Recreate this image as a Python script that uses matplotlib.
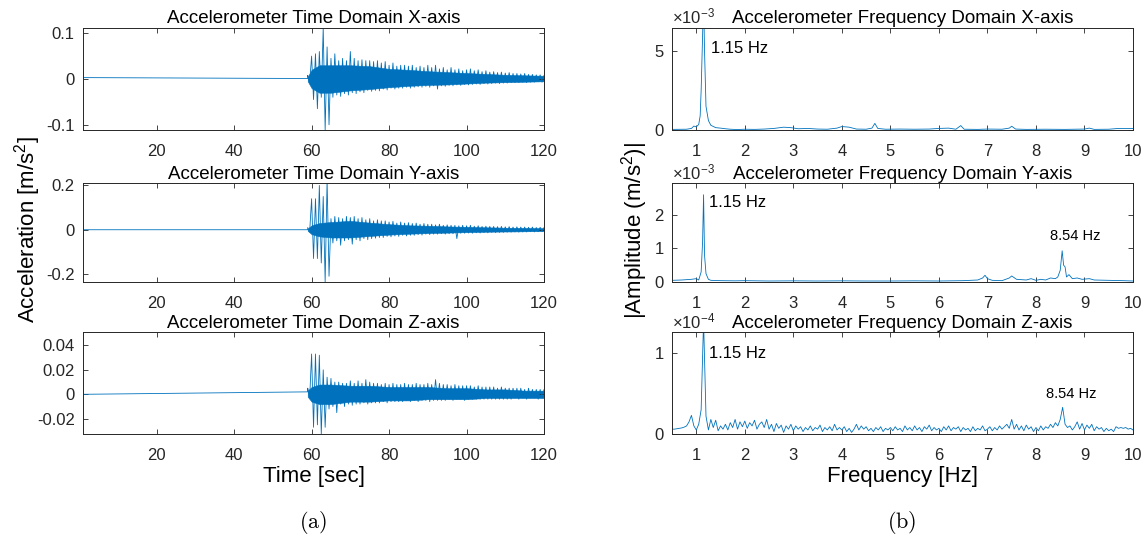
import matplotlib
matplotlib.use("Agg")
import matplotlib.pyplot as plt
import numpy as np

plt.rcParams["font.family"] = ["Liberation Sans", "DejaVu Sans"]
plt.rcParams["mathtext.fontset"] = "custom"
plt.rcParams["mathtext.rm"] = "Liberation Sans"
plt.rcParams["mathtext.it"] = "Liberation Sans:italic"
plt.rcParams["axes.unicode_minus"] = False

LINE = "#0072BD"
DARK = "#262626"

# ---- time domain: quiet stretch, then per-second envelope of the burst ----
t_quiet = [1, 59]
x_quiet = [0.003, 0.001]
y_quiet = [0.0, 0.0]
z_quiet = [0.0, 0.002]

burst_t = list(range(59, 121))

# peak values (max / min) read per second, 59 s .. 120 s
x_hi = [0.008, 0.05, 0.055, 0.06, 0.112, 0.07, 0.045, 0.055, 0.04, 0.045,
        0.04, 0.06, 0.045, 0.04, 0.042, 0.04, 0.04, 0.038, 0.04, 0.035,
        0.038, 0.03, 0.035, 0.028, 0.03, 0.03, 0.028, 0.03, 0.025, 0.028,
        0.025, 0.03, 0.025, 0.03, 0.022, 0.025, 0.02, 0.025, 0.02, 0.022,
        0.018, 0.02, 0.022, 0.018, 0.02, 0.016, 0.018, 0.015, 0.016, 0.014,
        0.015, 0.013, 0.014, 0.012, 0.012, 0.011, 0.012, 0.01, 0.01, 0.009,
        0.009, 0.008]
x_lo = [-0.008, -0.045, -0.065, -0.04, -0.112, -0.1, -0.04, -0.035, -0.038, -0.032,
        -0.035, -0.03, -0.032, -0.028, -0.03, -0.025, -0.027, -0.025, -0.026, -0.022,
        -0.024, -0.02, -0.022, -0.02, -0.02, -0.018, -0.02, -0.018, -0.017, -0.018,
        -0.016, -0.018, -0.015, -0.022, -0.015, -0.016, -0.014, -0.015, -0.013, -0.014,
        -0.012, -0.013, -0.012, -0.011, -0.012, -0.01, -0.011, -0.01, -0.009, -0.01,
        -0.009, -0.009, -0.008, -0.008, -0.008, -0.007, -0.008, -0.007, -0.007, -0.006,
        -0.007, -0.006]

y_hi = [0.01, 0.14, 0.14, 0.2, 0.15, 0.225, 0.05, 0.06, 0.055, 0.05,
        0.06, 0.055, 0.06, 0.05, 0.055, 0.045, 0.05, 0.04, 0.045, 0.04,
        0.04, 0.035, 0.038, 0.03, 0.035, 0.03, 0.032, 0.028, 0.03, 0.025,
        0.028, 0.025, 0.025, 0.022, 0.025, 0.02, 0.022, 0.02, 0.02, 0.018,
        0.02, 0.018, 0.02, 0.016, 0.018, 0.015, 0.016, 0.015, 0.015, 0.014,
        0.015, 0.013, 0.014, 0.012, 0.013, 0.012, 0.012, 0.011, 0.012, 0.01,
        0.011, 0.01]
y_lo = [-0.01, -0.13, -0.13, -0.15, -0.235, -0.21, -0.06, -0.05, -0.07, -0.05,
        -0.045, -0.065, -0.045, -0.05, -0.04, -0.045, -0.04, -0.038, -0.035, -0.035,
        -0.03, -0.032, -0.028, -0.03, -0.025, -0.028, -0.025, -0.025, -0.022, -0.024,
        -0.02, -0.022, -0.02, -0.02, -0.018, -0.02, -0.018, -0.018, -0.04, -0.016,
        -0.016, -0.015, -0.016, -0.014, -0.015, -0.013, -0.014, -0.012, -0.013, -0.012,
        -0.012, -0.011, -0.011, -0.01, -0.011, -0.01, -0.01, -0.009, -0.01, -0.009,
        -0.009, -0.009]

z_hi = [0.005, 0.033, 0.033, 0.032, 0.02, 0.014, 0.013, 0.01, 0.01, 0.009,
        0.009, 0.011, 0.009, 0.011, 0.009, 0.012, 0.01, 0.009, 0.009, 0.008,
        0.009, 0.008, 0.009, 0.008, 0.008, 0.009, 0.008, 0.008, 0.009, 0.008,
        0.008, 0.009, 0.008, 0.012, 0.009, 0.008, 0.008, 0.007, 0.008, 0.007,
        0.007, 0.007, 0.007, 0.006, 0.007, 0.006, 0.006, 0.006, 0.006, 0.005,
        0.006, 0.005, 0.005, 0.005, 0.005, 0.005, 0.004, 0.005, 0.004, 0.004,
        0.004, 0.004]
z_lo = [-0.003, -0.027, -0.025, -0.0325, -0.027, -0.012, -0.01, -0.015, -0.008, -0.01,
        -0.008, -0.009, -0.008, -0.008, -0.007, -0.008, -0.007, -0.007, -0.007, -0.006,
        -0.007, -0.006, -0.006, -0.006, -0.006, -0.005, -0.006, -0.005, -0.006, -0.005,
        -0.005, -0.006, -0.005, -0.005, -0.005, -0.005, -0.004, -0.005, -0.004, -0.004,
        -0.005, -0.004, -0.004, -0.004, -0.004, -0.004, -0.004, -0.004, -0.004, -0.004,
        -0.004, -0.004, -0.004, -0.003, -0.004, -0.003, -0.004, -0.003, -0.003, -0.004,
        -0.003, -0.003]

# solid core of the densely packed oscillation, read every few seconds
core_t = [59, 60, 62, 65, 70, 75, 80, 85, 90, 95, 100, 105, 110, 115, 120]
x_core_hi = [0.005, 0.02, 0.03, 0.03, 0.03, 0.028, 0.022, 0.02, 0.017, 0.015,
             0.013, 0.011, 0.009, 0.008, 0.007]
x_core_lo = [-0.005, -0.02, -0.03, -0.03, -0.025, -0.022, -0.018, -0.015, -0.013,
             -0.012, -0.01, -0.008, -0.007, -0.006, -0.005]
y_core_hi = [0.005, 0.02, 0.03, 0.035, 0.04, 0.032, 0.025, 0.02, 0.018, 0.015,
             0.013, 0.011, 0.009, 0.008, 0.007]
y_core_lo = [-0.005, -0.02, -0.03, -0.035, -0.035, -0.028, -0.022, -0.018, -0.015,
             -0.013, -0.011, -0.009, -0.008, -0.007, -0.006]
z_core_hi = [0.003, 0.006, 0.008, 0.008, 0.007, 0.007, 0.006, 0.006, 0.006, 0.005,
             0.005, 0.004, 0.004, 0.003, 0.003]
z_core_lo = [-0.002, -0.006, -0.008, -0.008, -0.006, -0.006, -0.005, -0.005, -0.004,
             -0.004, -0.004, -0.003, -0.003, -0.003, -0.003]

# ---- frequency domain ----
fx_freq = [0.5, 0.8, 0.9, 0.95, 1.0, 1.05, 1.08, 1.1, 1.13, 1.15, 1.17, 1.2, 1.25,
           1.3, 1.4, 1.5, 1.6, 1.7, 1.85, 2.0, 2.2, 2.4, 2.6, 2.8, 2.95, 3.1, 3.3,
           3.5, 3.7, 3.9, 4.0, 4.15, 4.3, 4.5, 4.62, 4.68, 4.74, 4.9, 5.2, 5.5, 5.8,
           6.0, 6.2, 6.35, 6.45, 6.52, 6.8, 7.0, 7.3, 7.45, 7.5, 7.58, 7.8, 8.2,
           8.6, 9.0, 9.1, 9.2, 9.5, 9.7, 10.0]
fx_amp = [0.04, 0.05, 0.1, 0.25, 0.2, 0.35, 0.9, 2.5, 6.0, 8.5, 5.0, 1.5, 0.6,
          0.3, 0.15, 0.12, 0.08, 0.05, 0.03, 0.05, 0.04, 0.06, 0.1, 0.18, 0.15, 0.08, 0.1,
          0.06, 0.05, 0.12, 0.22, 0.18, 0.06, 0.05, 0.12, 0.42, 0.1, 0.05, 0.06, 0.05, 0.06,
          0.1, 0.12, 0.05, 0.28, 0.05, 0.04, 0.06, 0.05, 0.12, 0.24, 0.06, 0.04, 0.05,
          0.04, 0.06, 0.12, 0.04, 0.05, 0.1, 0.1]  # x 1e-3

fy_freq = [0.5, 0.7, 0.9, 1.0, 1.05, 1.1, 1.13, 1.15, 1.17, 1.2, 1.25, 1.3, 1.5,
           1.8, 2.0, 2.5, 3.0, 3.5, 4.0, 4.5, 5.0, 5.5, 6.0, 6.5, 6.8, 6.9, 6.95,
           7.0, 7.1, 7.3, 7.45, 7.5, 7.6, 7.8, 7.9, 8.0, 8.1, 8.2, 8.3, 8.4, 8.45,
           8.5, 8.54, 8.57, 8.6, 8.63, 8.68, 8.75, 8.85, 8.95, 9.1, 9.2, 9.5, 9.8, 10.0]
fy_amp = [0.05, 0.06, 0.08, 0.1, 0.06, 0.3, 1.2, 2.6, 0.8, 0.25, 0.08, 0.05, 0.04,
          0.035, 0.04, 0.03, 0.035, 0.03, 0.035, 0.03, 0.03, 0.035, 0.03, 0.04, 0.06, 0.12, 0.2,
          0.1, 0.05, 0.04, 0.12, 0.18, 0.08, 0.06, 0.1, 0.05, 0.08, 0.06, 0.12, 0.1, 0.15,
          0.35, 0.93, 0.5, 0.45, 0.15, 0.22, 0.1, 0.12, 0.08, 0.1, 0.06, 0.05, 0.04, 0.03]  # x 1e-3

fz_freq = np.arange(0.5, 10.001, 0.05)
fz_amp = [0.06, 0.06, 0.065, 0.07, 0.075, 0.085, 0.10, 0.15, 0.23, 0.10,
          0.05, 0.12, 0.30, 1.40, 0.22, 0.05, 0.18, 0.08, 0.17, 0.04,
          0.10, 0.06, 0.12, 0.05, 0.14, 0.08, 0.18, 0.06, 0.15, 0.09,
          0.16, 0.07, 0.14, 0.10, 0.17, 0.06, 0.12, 0.15, 0.08, 0.18,
          0.06, 0.12, 0.03, 0.13, 0.07, 0.11, 0.02, 0.10, 0.06, 0.12,
          0.04, 0.10, 0.06, 0.09, 0.03, 0.08, 0.05, 0.10, 0.04, 0.08,
          0.06, 0.11, 0.03, 0.08, 0.05, 0.09, 0.04, 0.12, 0.05, 0.08,
          0.05, 0.09, 0.03, 0.07, 0.02, 0.06, 0.12, 0.05, 0.10, 0.06,
          0.09, 0.04, 0.07, 0.03, 0.08, 0.05, 0.09, 0.03, 0.07, 0.05,
          0.08, 0.04, 0.09, 0.05, 0.07, 0.03, 0.10, 0.05, 0.08, 0.04,
          0.10, 0.05, 0.08, 0.03, 0.09, 0.06, 0.11, 0.04, 0.08, 0.05,
          0.07, 0.03, 0.09, 0.05, 0.10, 0.04, 0.08, 0.06, 0.09, 0.03,
          0.08, 0.05, 0.07, 0.03, 0.09, 0.04, 0.07, 0.05, 0.10, 0.04,
          0.06, 0.09, 0.04, 0.08, 0.05, 0.10, 0.06, 0.09, 0.12, 0.07,
          0.18, 0.06, 0.12, 0.05, 0.10, 0.04, 0.11, 0.06, 0.09, 0.03,
          0.08, 0.04, 0.10, 0.05, 0.09, 0.07, 0.12, 0.08, 0.14, 0.10,
          0.18, 0.33, 0.12, 0.08, 0.10, 0.05, 0.09, 0.15, 0.06, 0.13,
          0.05, 0.11, 0.07, 0.12, 0.04, 0.09, 0.06, 0.08, 0.03, 0.07,
          0.04, 0.06, 0.03, 0.09, 0.07, 0.08, 0.07, 0.08, 0.06, 0.07,
          0.05]  # x 1e-4


def burst_trace(quiet_t, quiet_v, hi, lo):
    # one max and one min per second, drawn as a single line
    t = []
    v = []
    for sec, a, b in zip(burst_t, hi, lo):
        t += [sec, sec + 0.5]
        v += [a, b]
    return np.array(quiet_t + t), np.array(quiet_v + v)


def style(ax):
    ax.tick_params(direction="in", top=True, right=True, length=3.5, width=0.6,
                   labelsize=12, colors=DARK)
    ax.tick_params(axis="x", pad=10)
    ax.tick_params(axis="y", pad=6)
    for s in ax.spines.values():
        s.set_color(DARK)
        s.set_linewidth(0.7)


fig = plt.figure(figsize=(11.47, 5.44), dpi=100)

left_x, right_x, w = 0.0724, 0.5859, 0.4019
rows = [(0.761, 0.1884), (0.4816, 0.1820), (0.2022, 0.1875)]

time_sets = [
    ("X", x_quiet, x_hi, x_lo, x_core_hi, x_core_lo, (-0.1115, 0.1124),
     [-0.1, 0, 0.1], ["-0.1", "0", "0.1"]),
    ("Y", y_quiet, y_hi, y_lo, y_core_hi, y_core_lo, (-0.236, 0.211),
     [-0.2, 0, 0.2], ["-0.2", "0", "0.2"]),
    ("Z", z_quiet, z_hi, z_lo, z_core_hi, z_core_lo, (-0.0325, 0.051),
     [-0.02, 0, 0.02, 0.04], ["-0.02", "0", "0.02", "0.04"]),
]
for (name, quiet, hi, lo, chi, clo, ylim, yt, ytl), (b, h) in zip(time_sets, rows):
    ax = fig.add_axes([left_x, b, w, h])
    t, v = burst_trace(t_quiet, quiet, hi, lo)
    ax.fill_between(core_t, clo, chi, color=LINE, lw=0.4)
    ax.plot(t, v, color=LINE, lw=0.6)
    ax.set_xlim(1, 120)
    ax.set_ylim(*ylim)
    ax.set_xticks([20, 40, 60, 80, 100, 120])
    ax.set_yticks(yt)
    ax.set_yticklabels(ytl)
    ax.set_title(f"Accelerometer Time Domain {name}-axis", fontsize=13.5, pad=3)
    style(ax)
    if name == "Z":
        ax.set_xlabel("Time [sec]", fontsize=16, labelpad=2)

freq_sets = [
    ("X", fx_freq, np.array(fx_amp) * 1e-3, 1e-3, "-3", (0, 6.5e-3), [0, 5]),
    ("Y", fy_freq, np.array(fy_amp) * 1e-3, 1e-3, "-3", (0, 2.95e-3), [0, 1, 2]),
    ("Z", fz_freq, np.array(fz_amp) * 1e-4, 1e-4, "-4", (0, 1.26e-4), [0, 1]),
]
for (name, f, a, scale, expo, ylim, yt), (b, h) in zip(freq_sets, rows):
    ax = fig.add_axes([right_x, b, w, h])
    ax.plot(f, a, color=LINE, lw=0.6)
    ax.set_xlim(0.5, 10)
    ax.set_ylim(*ylim)
    ax.set_xticks(range(1, 11))
    ax.set_yticks([v * scale for v in yt])
    ax.set_yticklabels([str(v) for v in yt])
    ax.set_title(f"Accelerometer Frequency Domain {name}-axis", fontsize=13.5, pad=3)
    ax.text(0.0, 1.01, r"$\times10^{" + expo + "}$", transform=ax.transAxes,
            fontsize=12, color=DARK, ha="left", va="bottom")
    style(ax)
    if name == "X":
        ax.text(1.30, 5.17e-3, "1.15 Hz", fontsize=12, va="center")
    elif name == "Y":
        ax.text(1.27, 2.36e-3, "1.15 Hz", fontsize=12, va="center")
        ax.text(8.82, 1.37e-3, "8.54 Hz", fontsize=10.5, va="center", ha="center")
    else:
        ax.text(1.27, 1.0e-4, "1.15 Hz", fontsize=12, va="center")
        ax.text(8.72, 0.49e-4, "8.54 Hz", fontsize=10.5, va="center", ha="center")
        ax.set_xlabel("Frequency [Hz]", fontsize=16, labelpad=2)

fig.text(0.0244, 0.577, r"Acceleration [m/s$^{\mathrm{2}}$]", rotation=90,
         fontsize=16, ha="center", va="center")
fig.text(0.553, 0.577, r"|Amplitude (m/s$^{\mathrm{2}}$)|", rotation=90,
         fontsize=16, ha="center", va="center")

fig.text(313 / 1147, 1 - 522 / 544, r"$\mathrm{(a)}$", fontsize=16,
         ha="center", va="center", math_fontfamily="cm")
fig.text(902 / 1147, 1 - 522 / 544, r"$\mathrm{(b)}$", fontsize=16,
         ha="center", va="center", math_fontfamily="cm")

fig.savefig("out.png", dpi=100)
